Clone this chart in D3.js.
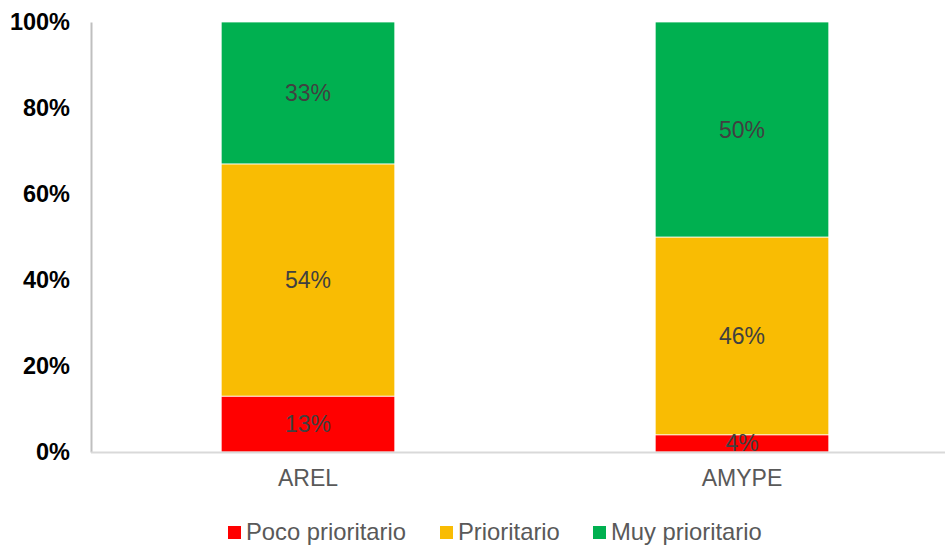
<!DOCTYPE html>
<html><head><meta charset="utf-8">
<script src="https://cdn.jsdelivr.net/npm/d3@7"></script>
<style>body{margin:0;background:#fff}svg{display:block}text{font-family:"Liberation Sans",Arial,sans-serif}</style>
</head><body>
<svg id="c" width="945" height="547"></svg>
<script>
const categories = ["AREL", "AMYPE"];
const seriesNames = ["Poco prioritario", "Prioritario", "Muy prioritario"];
const pocoPrioritario = [13, 4];
const prioritario = [54, 46];
const muyPrioritario = [33, 50];
const yTicks = [0, 20, 40, 60, 80, 100];
const colors = ["#ff0000", "#f9bc03", "#00b050"];

const svg = d3.select("#c");
const W = 945, H = 547;
const mLeft = 91, mTop = 22, mBottom = 452;

const x = d3.scaleBand().domain(categories).range([mLeft, mLeft + 868]).paddingInner(0.6).paddingOuter(0.3);
const y = d3.scaleLinear().domain([0, 100]).range([mBottom, mTop]);

const rows = categories.map((c, i) => ({cat: c, "Poco prioritario": pocoPrioritario[i], "Prioritario": prioritario[i], "Muy prioritario": muyPrioritario[i]}));
const stacked = d3.stack().keys(seriesNames)(rows);

// y axis
const yAxis = d3.axisLeft(y).tickValues(yTicks).tickFormat(d => d + "%").tickSize(0).tickPadding(21);
const ga = svg.append("g").attr("transform", `translate(${mLeft},0)`).call(yAxis);
ga.select(".domain").attr("stroke", "#bfbfbf").attr("stroke-width", 2);
ga.selectAll("text").attr("font-size", 23.5).attr("font-weight", "bold").attr("fill", "#000").attr("font-family", "Liberation Sans, Arial, sans-serif");

// bars
stacked.forEach((s, si) => {
  svg.append("g").selectAll("rect").data(s).join("rect")
    .attr("x", d => x(d.data.cat))
    .attr("width", x.bandwidth())
    .attr("y", d => y(d[1]))
    .attr("height", d => y(d[0]) - y(d[1]))
    .attr("fill", colors[si])
    .attr("stroke", "#fff").attr("stroke-width", 0.75);
});

// baseline
svg.append("line").attr("x1", mLeft).attr("x2", W).attr("y1", y(0) + 0.5).attr("y2", y(0) + 0.5).attr("stroke", "#d9d9d9").attr("stroke-width", 2);

// data labels
stacked.forEach((s, si) => {
  svg.append("g").selectAll("text").data(s).join("text")
    .attr("x", d => x(d.data.cat) + x.bandwidth() / 2)
    .attr("y", d => (y(d[0]) + y(d[1])) / 2)
    .attr("dy", "0.35em")
    .attr("text-anchor", "middle")
    .attr("font-size", 23)
    .attr("fill", "#404040")
    .text(d => (d[1] - d[0]) + "%");
});

// category labels
const gx = svg.append("g").attr("transform", `translate(0,${mBottom})`).call(d3.axisBottom(x).tickSize(0).tickPadding(18));
gx.select(".domain").remove();
gx.selectAll("text").attr("font-size", 23).attr("fill", "#595959").attr("font-family", "Liberation Sans, Arial, sans-serif");

// legend
const legendX = [228, 440, 593];
const lg = svg.append("g");
seriesNames.forEach((n, i) => {
  lg.append("rect").attr("x", legendX[i]).attr("y", 526).attr("width", 13).attr("height", 13).attr("fill", colors[i]);
  lg.append("text").attr("x", legendX[i] + 18).attr("y", 540).attr("font-size", 23.8).attr("fill", "#595959").text(n);
});
</script>
</body></html>
